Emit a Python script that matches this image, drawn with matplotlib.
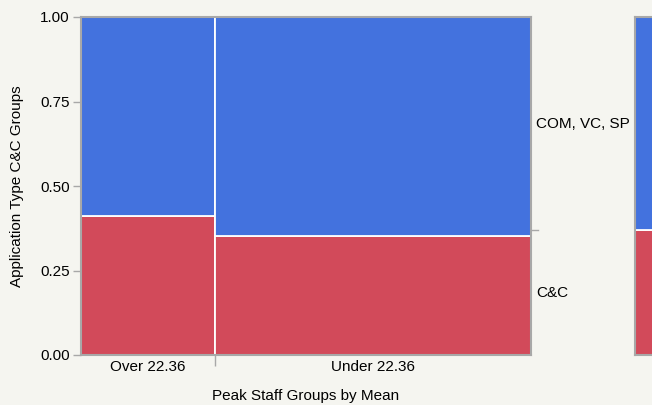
import numpy as np
import matplotlib
matplotlib.use("Agg")
import matplotlib.pyplot as plt

groups = ["Over 22.36", "Under 22.36"]
group_share = [0.298, 0.702]          # column widths (share of rows)
categories = ["C&C", "COM, VC, SP"]
cc_share = [0.411, 0.351]             # C&C share inside each column

BLUE = "#4372de"
RED = "#d24a5a"
BG = "#f5f5f0"
FRAME = "#a8a8a8"

plt.rcParams["font.family"] = ["Liberation Sans", "DejaVu Sans"]
plt.rcParams["font.size"] = 11

fig = plt.figure(figsize=(6.52, 4.05), dpi=100, facecolor=BG)
W, H = 652, 405
ax = fig.add_axes([81 / W, 1 - 355 / H, 450 / W, 338 / H], facecolor=BG)

widths = np.array(group_share)
lefts = np.concatenate([[0], np.cumsum(widths)[:-1]])
cc = np.array(cc_share)
ax.bar(lefts, cc, width=widths, align="edge", color=RED, edgecolor="white", linewidth=1.3)
ax.bar(lefts, 1 - cc, bottom=cc, width=widths, align="edge", color=BLUE,
       edgecolor="white", linewidth=1.3)

ax.set_xlim(0, 1)
ax.set_ylim(0, 1)
for s in ax.spines.values():
    s.set_color(FRAME)
    s.set_linewidth(1.5)

ax.set_yticks([0, 0.25, 0.5, 0.75, 1.0])
ax.set_yticklabels(["0.00", "0.25", "0.50", "0.75", "1.00"])
ax.tick_params(axis="y", color=FRAME, length=6, width=1, pad=2)

# x: boundaries as ticks, group names centred under the columns
ax.set_xticks(lefts[1:])
ax.set_xticklabels([])
ax.tick_params(axis="x", color=FRAME, length=8, width=1)
for l, w, g in zip(lefts, widths, groups):
    fig.text((81 + 450 * (l + w / 2)) / W, 1 - 367 / H, g, ha="center", va="center")

fig.text(306 / W, 1 - 396 / H, "Peak Staff Groups by Mean", ha="center", va="center")
fig.text(17 / W, 1 - 186 / H, "Application Type C&C Groups", ha="center", va="center",
         rotation=90)

# right-hand category labels at the overall split
overall_cc = float(np.sum(widths * cc))
ax.plot([1.0, 1.016], [overall_cc, overall_cc], color=FRAME, lw=1,
        transform=ax.transAxes, clip_on=False)
ax.text(1.012, overall_cc / 2, categories[0], va="center", ha="left", transform=ax.transAxes)
ax.text(1.012, (1 + overall_cc) / 2, categories[1], va="center", ha="left", transform=ax.transAxes)

# marginal bar (cut at the right edge)
ax2 = fig.add_axes([635 / W, 1 - 355 / H, 25 / W, 338 / H], facecolor=BG)
ax2.bar([0], [overall_cc], width=1, align="edge", color=RED, edgecolor="white", linewidth=1.3)
ax2.bar([0], [1 - overall_cc], bottom=[overall_cc], width=1, align="edge", color=BLUE,
        edgecolor="white", linewidth=1.3)
ax2.set_xlim(0, 1)
ax2.set_ylim(0, 1)
ax2.set_xticks([])
ax2.set_yticks([])
for s in ax2.spines.values():
    s.set_color(FRAME)
    s.set_linewidth(1.5)

fig.savefig("out.png", dpi=100, facecolor=BG)
